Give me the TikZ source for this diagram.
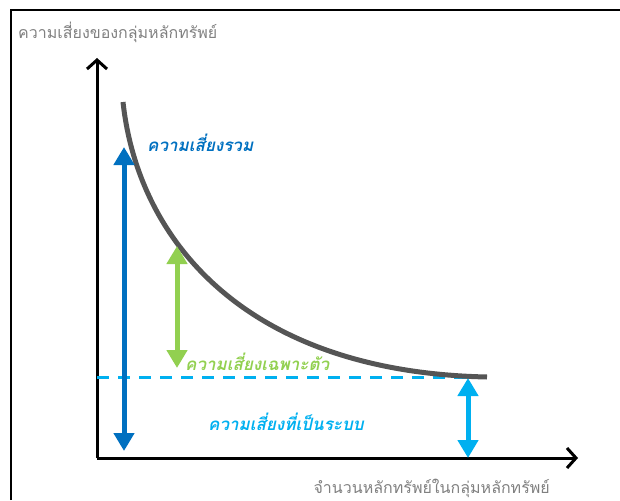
\documentclass[tikz,border=0pt]{standalone}
\usepackage{fontspec}
\newfontfamily\thaifont[Script=Thai]{Loma}
\usetikzlibrary{arrows.meta}
\definecolor{rvmblue}{HTML}{0070C0}
\definecolor{rvmgreen}{HTML}{92D050}
\definecolor{rvmcyan}{HTML}{00B0F0}
\definecolor{rvmcurve}{HTML}{555555}
\definecolor{rvmtext}{HTML}{808080}
\tikzset{
  tengely/.style={line width=3pt,-{Straight Barb[length=9pt,width=20pt,line width=3pt]}},
  kettos/.style={line width=5pt,{Triangle[length=18pt,width=20pt]}-{Triangle[length=18pt,width=20pt]}},
  gorbe/.style={line width=5pt,rvmcurve},
  szaggatott/.style={line width=3pt,rvmcyan,dash pattern=on 12pt off 9pt},
  tengelycimke/.style={font=\thaifont\fontsize{16}{18}\selectfont,text=rvmtext,inner sep=0pt},
  kockazat/.style={font=\thaifont\bfseries\itshape\fontsize{17}{19}\selectfont,inner sep=0pt},
}
\begin{document}
\begin{tikzpicture}[x=1pt,y=-1pt]
  \useasboundingbox (0,0) rectangle (620,500);
  % keret
  \draw[line width=2pt] (11,500) -- (11,10) -- (620,10);
  % tengelyek
  \coordinate (o) at (97,458);
  \coordinate (ycsucs) at (97,58);
  \coordinate (xcsucs) at (578,458);
  \draw[tengely] (o) -- (ycsucs);
  \draw[tengely] (o) -- (xcsucs);
  \node[tengelycimke,anchor=west] (ycim) at (18,32) {ความเสี่ยงของกลุ่มหลักทรัพย์};
  \node[tengelycimke,anchor=east] (xcim) at (550,488) {จำนวนหลักทรัพย์ในกลุ่มหลักทรัพย์};
  % szisztematikus szint
  \coordinate (sz1) at (97,377); \coordinate (sz2) at (492,377);
  \draw[szaggatott] (sz1) -- (sz2);
  % gorbe
  \draw[gorbe] (123,102) .. controls (138,240) and (245,372) .. (487,377);
  % nyilak
  \coordinate (t1) at (124,147); \coordinate (t2) at (124,451);
  \draw[kettos,rvmblue] (t1) -- (t2);
  \coordinate (e1) at (177,246); \coordinate (e2) at (177,368);
  \draw[kettos,rvmgreen] (e1) -- (e2);
  \coordinate (r1) at (468,378); \coordinate (r2) at (468,458);
  \draw[kettos,rvmcyan] (r1) -- (r2);
  % cimkek
  \node[kockazat,text=rvmblue,anchor=west] (osszes) at (147,143) {ความเสี่ยงรวม};
  \node[kockazat,text=rvmgreen,anchor=west] (egyedi) at (185,362) {ความเสี่ยงเฉพาะตัว};
  \node[kockazat,text=rvmcyan,anchor=west] (rendszer) at (208,422) {ความเสี่ยงที่เป็นระบบ};
\end{tikzpicture}
\end{document}
